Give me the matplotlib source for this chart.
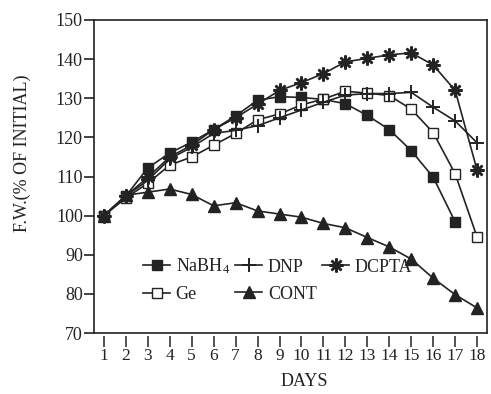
import matplotlib
matplotlib.use("Agg")
import matplotlib.pyplot as plt

plt.rcParams['font.family'] = ['Liberation Serif', 'DejaVu Serif']
plt.rcParams['mathtext.fontset'] = 'custom'
plt.rcParams['mathtext.rm'] = 'Liberation Serif'
plt.rcParams['mathtext.it'] = 'Liberation Serif'

days = list(range(1, 19))

nabh4 = [100, 105, 112.2, 116, 118.8, 122, 125.5, 129.5, 130.4, 130.2,
         129.7, 128.6, 125.6, 122, 116.6, 109.8, 98.4]
dnp = [100, 105, 109, 114.5, 117.5, 121, 121.8, 123, 125, 127,
       129, 130.8, 131.2, 131.2, 131.5, 127.7, 124.2, 118.6]
dcpta = [100, 105, 109.8, 115, 118, 122, 125, 128.5, 132, 134,
         136.3, 139.3, 140.2, 141.1, 141.6, 138.5, 132, 111.6]
ge = [100, 104.5, 108.3, 112.9, 115, 118, 121, 124.5, 126, 128.3,
      129.8, 131.8, 131.3, 130.7, 127.2, 121.2, 110.7, 94.5]
cont = [100, 105.2, 106, 106.8, 105.4, 102.5, 103.3, 101.2, 100.4, 99.6,
        98, 96.9, 94.4, 92, 88.9, 84, 79.8, 76.4]

ink = '#232323'

fig = plt.figure(figsize=(4.91, 3.94), dpi=100)
ax = fig.add_axes([94 / 491, 61 / 394, 393 / 491, 313 / 394])

lw = 1.2
h_na, = ax.plot(days[:len(nabh4)], nabh4, color=ink, lw=lw, marker='s',
                ms=7, mfc=ink, mec=ink, label=r'NaBH$_4$')
h_ge, = ax.plot(days, ge, color=ink, lw=lw, marker='s', ms=7,
                mfc='white', mec=ink, mew=1.0, label='Ge')
h_dnp, = ax.plot(days, dnp, color=ink, lw=lw, marker='+', ms=10,
                 mew=1.4, mec=ink, label='DNP')
h_dc, = ax.plot(days, dcpta, color=ink, lw=lw, marker=(8, 2, 0), ms=10,
                mew=1.8, mec=ink, label='DCPTA')
h_ct, = ax.plot(days, cont, color=ink, lw=lw, marker='^', ms=8.5,
                mfc=ink, mec=ink, label='CONT')

ax.set_xlim(0.55, 18.45)
ax.set_ylim(70, 150)
ax.set_yticks(range(70, 151, 10))

for s in ax.spines.values():
    s.set_color(ink)
    s.set_linewidth(1.2)

ax.tick_params(axis='y', direction='out', length=7, width=1.2,
               colors=ink, labelsize=13, pad=1)
ax.tick_params(axis='x', length=0, labelbottom=False)

# day ticks sit just below the frame, separated by a small gap
sec = ax.secondary_xaxis(-0.011)
sec.set_xticks(days)
sec.spines['bottom'].set_visible(False)
sec.tick_params(axis='x', direction='out', length=8, width=1.1,
                colors=ink, labelsize=12.5, pad=0)

ax.set_ylabel('F.W.(% OF INITIAL)', fontsize=13, color=ink)
ax.yaxis.set_label_coords(-0.16, 0.575)
ax.set_xlabel('DAYS', fontsize=13, color=ink)
ax.xaxis.set_label_coords(0.535, -0.128)

leg = ax.legend(handles=[h_na, h_ge, h_dnp, h_ct, h_dc], ncol=3,
                loc='lower left', bbox_to_anchor=(0.125, 0.095),
                frameon=False, fontsize=13, handlelength=1.5,
                handletextpad=0.3, columnspacing=0.3, labelspacing=0.55,
                borderaxespad=0, borderpad=0)
for t in leg.get_texts():
    t.set_color(ink)

fig.savefig('out.png', dpi=100, facecolor='white')
